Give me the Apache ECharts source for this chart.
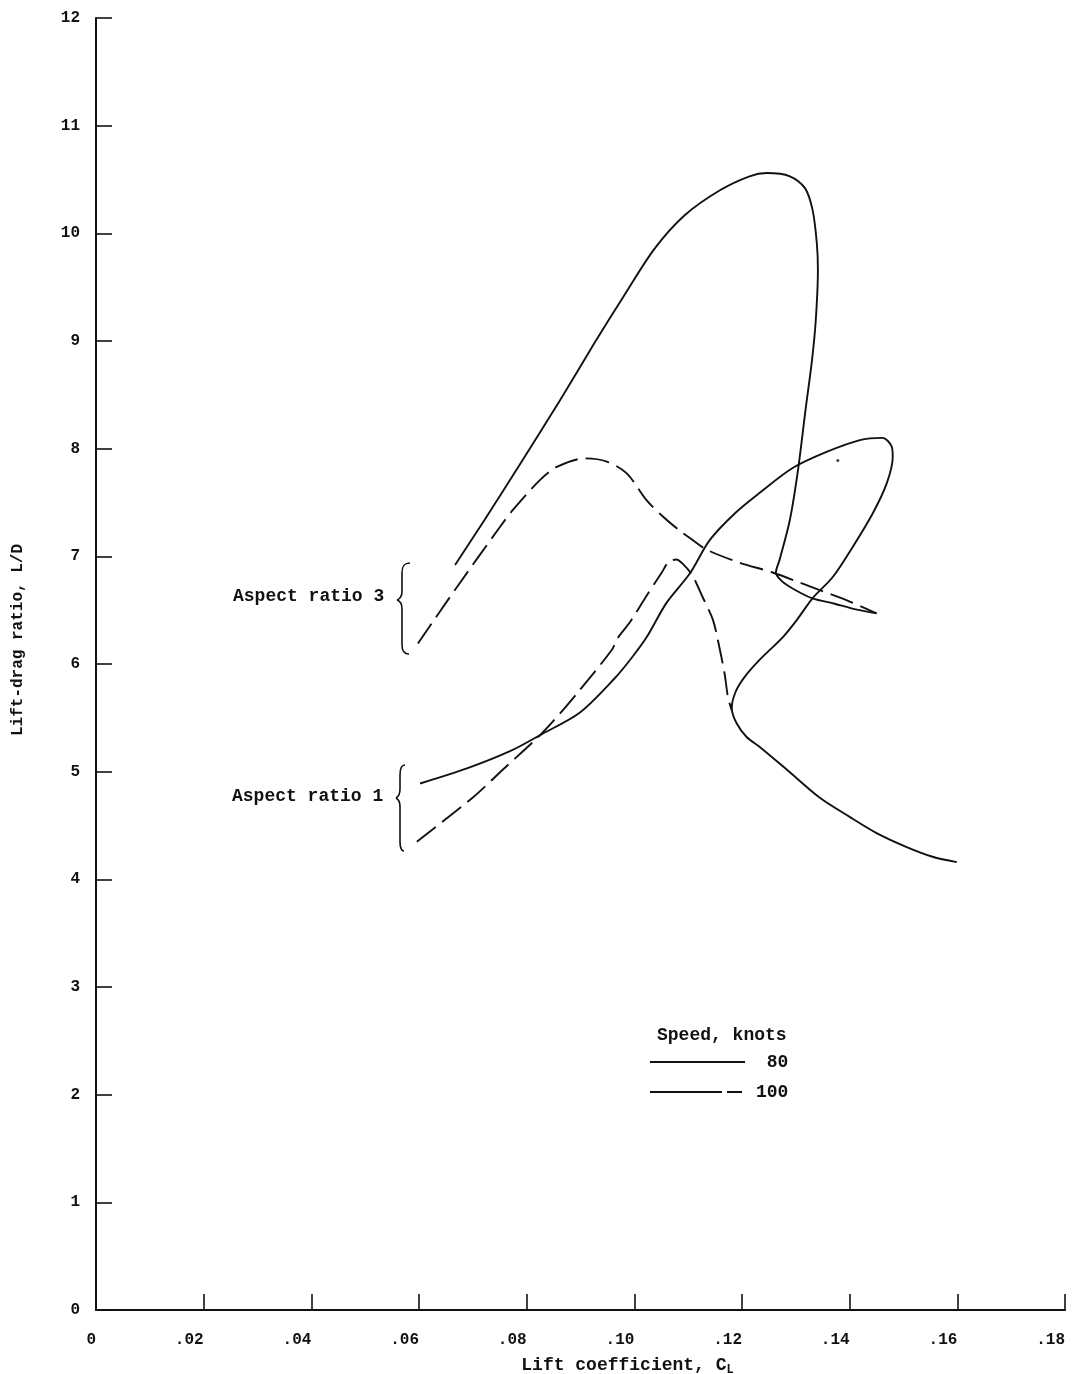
<!DOCTYPE html>
<html><head><meta charset="utf-8">
<script src="https://cdn.jsdelivr.net/npm/echarts@6/dist/echarts.min.js"></script>
<style>html,body{margin:0;padding:0;background:#fff}#c{width:1077px;height:1374px}</style>
</head><body><div id="c"></div>
<script>
// Tick labels
const xTickLabels = ['0', '.02', '.04', '.06', '.08', '.10', '.12', '.14', '.16', '.18'];
const yTickLabels = ['0', '1', '2', '3', '4', '5', '6', '7', '8', '9', '10', '11', '12'];
const speedNames = ['80', '100'];

// Aspect ratio 3, 80 knots (solid)
const ar3Speed80 = [[0.0667,6.92],[0.0722,7.34],[0.0787,7.85],[0.0862,8.45],[0.0927,8.99],[0.0982,9.43],[0.1038,9.86],[0.1094,10.17],[0.1159,10.40],[0.1214,10.53],[0.1246,10.56],[0.1289,10.53],[0.1317,10.42],[0.1331,10.22],[0.1339,9.91],[0.1341,9.66],[0.1337,9.19],[0.1330,8.82],[0.1318,8.36],[0.1304,7.80],[0.1289,7.34],[0.1270,6.97],[0.1263,6.85],[0.1274,6.77],[0.1298,6.69],[0.1331,6.61],[0.1372,6.56],[0.1409,6.51],[0.1450,6.47]];
// Aspect ratio 3, 100 knots (dashed)
const ar3Speed100 = [[0.0598,6.19],[0.0667,6.69],[0.0750,7.27],[0.0776,7.44],[0.0825,7.71],[0.0856,7.83],[0.0908,7.91],[0.0949,7.88],[0.0986,7.77],[0.1023,7.52],[0.1053,7.37],[0.1084,7.24],[0.1109,7.15],[0.1135,7.06],[0.1196,6.94],[0.1257,6.85],[0.1326,6.72],[0.1400,6.58],[0.1450,6.47]];
// Aspect ratio 1, 80 knots (solid)
const ar1Speed80 = [[0.0602,4.89],[0.0689,5.03],[0.0769,5.19],[0.0825,5.34],[0.0899,5.55],[0.0964,5.87],[0.0997,6.07],[0.1023,6.25],[0.1060,6.57],[0.1103,6.84],[0.1140,7.15],[0.1187,7.40],[0.1233,7.59],[0.1294,7.82],[0.1357,7.97],[0.1419,8.08],[0.1461,8.10],[0.1478,8.02],[0.1480,7.92],[0.1469,7.68],[0.1443,7.40],[0.1406,7.09],[0.1369,6.81],[0.1331,6.61],[0.1302,6.41],[0.1276,6.25],[0.1233,6.04],[0.1205,5.88],[0.1188,5.74],[0.1181,5.59],[0.1190,5.45],[0.1209,5.32],[0.1233,5.23],[0.1283,5.02],[0.1344,4.76],[0.1400,4.58],[0.1450,4.43],[0.1506,4.30],[0.1554,4.21],[0.1599,4.16]];
// Aspect ratio 1, 100 knots (dashed)
const ar1Speed100 = [[0.0596,4.35],[0.0700,4.76],[0.0756,5.02],[0.0825,5.34],[0.0867,5.57],[0.0899,5.76],[0.0958,6.13],[0.0969,6.24],[0.0992,6.39],[0.1021,6.62],[0.1051,6.85],[0.1064,6.95],[0.1078,6.97],[0.1090,6.93],[0.1107,6.83],[0.1127,6.62],[0.1146,6.41],[0.1159,6.13],[0.1168,5.90],[0.1174,5.69],[0.1181,5.57]];
// stray dot on the original sheet
const strayDot = [[0.1378,7.89]];

const FONT = '"Liberation Mono", "DejaVu Sans Mono", monospace';
const INK = '#111';

// curly brace drawn from simple graphic pieces
function brace(x, yTop, yTip, yBot, hook, tip) {
  const st = {stroke: INK, lineWidth: 1.6, fill: null};
  return [
    {type: 'bezierCurve', shape: {x1: x + hook, y1: yTop, cpx1: x + 2, cpy1: yTop, cpx2: x, cpy2: yTop + 3, x2: x, y2: yTop + 10}, style: st},
    {type: 'line', shape: {x1: x, y1: yTop + 10, x2: x, y2: yTip - 9}, style: st},
    {type: 'bezierCurve', shape: {x1: x, y1: yTip - 9, cpx1: x, cpy1: yTip - 3, cpx2: x - 2, cpy2: yTip - 1, x2: x - tip, y2: yTip}, style: st},
    {type: 'bezierCurve', shape: {x1: x - tip, y1: yTip, cpx1: x - 2, cpy1: yTip + 1, cpx2: x, cpy2: yTip + 3, x2: x, y2: yTip + 9}, style: st},
    {type: 'line', shape: {x1: x, y1: yTip + 9, x2: x, y2: yBot - 9}, style: st},
    {type: 'bezierCurve', shape: {x1: x, y1: yBot - 9, cpx1: x, cpy1: yBot - 3, cpx2: x + 2, cpy2: yBot, x2: x + hook - 1, y2: yBot}, style: st}
  ];
}

const chart = echarts.init(document.getElementById('c'), null, {renderer: 'canvas'});

const solid = {type: 'line', smooth: 0.3, symbol: 'none', showSymbol: false, lineStyle: {color: INK, width: 1.9, type: 'solid'}, itemStyle: {color: INK}, z: 3, silent: true};
const dashed = {type: 'line', smooth: 0.3, symbol: 'none', showSymbol: false, lineStyle: {color: INK, width: 1.9, type: [24, 8]}, itemStyle: {color: INK}, z: 3, silent: true};

chart.setOption({
  animation: false,
  backgroundColor: '#fff',
  grid: {left: 96, right: 12, top: 18, bottom: 64, containLabel: false, outerBoundsMode: 'none'},
  xAxis: {
    type: 'value', min: 0, max: 0.18, interval: 0.02,
    name: 'Lift coefficient, C{sub|L}', nameLocation: 'middle', nameGap: 44,
    nameTextStyle: {fontFamily: FONT, fontSize: 18, fontWeight: 'bold', color: INK, padding: [0, 0, 0, 94],
      rich: {sub: {fontFamily: FONT, fontSize: 12, fontWeight: 'bold', color: INK, padding: [10, 0, 0, 0]}}},
    axisLine: {show: true, onZero: false, lineStyle: {color: INK, width: 2}},
    axisTick: {show: true, inside: true, length: 16, lineStyle: {color: INK, width: 1.6}},
    axisLabel: {margin: 22, fontFamily: FONT, fontSize: 16, fontWeight: 'bold', color: INK, align: 'right',
      formatter: v => xTickLabels[Math.round(v / 0.02)]},
    splitLine: {show: false}
  },
  yAxis: {
    type: 'value', min: 0, max: 12, interval: 1,
    name: 'Lift-drag ratio, L/D', nameLocation: 'middle', nameGap: 70,
    nameTextStyle: {fontFamily: FONT, fontSize: 16, fontWeight: 'bold', color: INK, padding: [0, 0, 0, 48]},
    axisLine: {show: true, onZero: false, lineStyle: {color: INK, width: 2}},
    axisTick: {show: true, inside: true, length: 16, lineStyle: {color: INK, width: 1.6}},
    axisLabel: {margin: 16, fontFamily: FONT, fontSize: 16, fontWeight: 'bold', color: INK,
      formatter: v => yTickLabels[Math.round(v)]},
    splitLine: {show: false}
  },
  legend: {
    data: [
      {name: speedNames[0], icon: 'path://M0,0H95V2H0Z'},
      {name: speedNames[1], icon: 'path://M0,0H72V2H0Z M77,0H92V2H77Z M94,0H95V0.01H94Z'}
    ],
    orient: 'vertical', left: 650, top: 1053, padding: 0,
    itemWidth: 95, itemHeight: 2, itemGap: 12,
    selectedMode: false,
    itemStyle: {color: INK, borderWidth: 0},
    formatter: n => (n.length < 3 ? ' ' + n : n),
    textStyle: {fontFamily: FONT, fontSize: 18, fontWeight: 'bold', color: INK, padding: [0, 0, 0, 6]}
  },
  graphic: [
    {type: 'text', left: 233, top: 587, style: {text: 'Aspect ratio 3', font: 'bold 18px ' + FONT, fill: INK}},
    {type: 'text', left: 232, top: 787, style: {text: 'Aspect ratio 1', font: 'bold 18px ' + FONT, fill: INK}},
    {type: 'text', left: 657, top: 1026, style: {text: 'Speed, knots', font: 'bold 18px ' + FONT, fill: INK}}
  ].concat(brace(402, 563, 600, 654, 8, 5), brace(400, 765, 798, 851, 5, 4)),
  series: [
    Object.assign({}, solid, {name: speedNames[0], data: ar3Speed80}),
    Object.assign({}, dashed, {name: speedNames[1], data: ar3Speed100}),
    Object.assign({}, solid, {name: speedNames[0], data: ar1Speed80}),
    Object.assign({}, dashed, {name: speedNames[1], data: ar1Speed100}),
    {type: 'scatter', name: 'dot', data: strayDot, symbolSize: 3, itemStyle: {color: INK}, silent: true}
  ]
});
</script></body></html>
